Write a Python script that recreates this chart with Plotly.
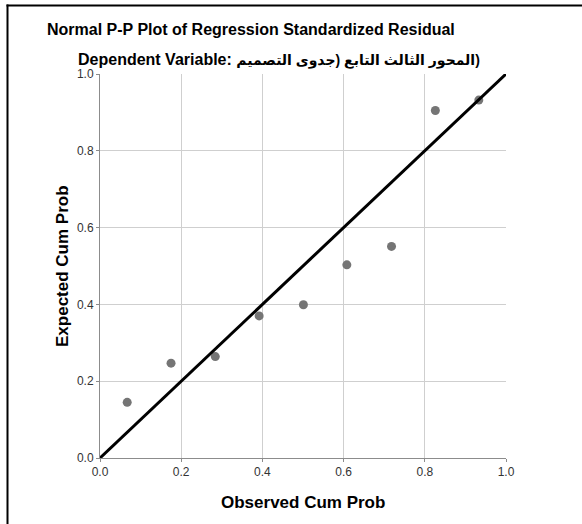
import plotly.graph_objects as go

observed = [0.067, 0.175, 0.284, 0.392, 0.501, 0.608, 0.718, 0.826, 0.933]
expected = [0.145, 0.247, 0.264, 0.370, 0.399, 0.503, 0.551, 0.905, 0.932]
ref_line = [0.0, 1.0]
tick_vals = [0.0, 0.2, 0.4, 0.6, 0.8, 1.0]
tick_text = ["0.0", "0.2", "0.4", "0.6", "0.8", "1.0"]

title_text = "Normal P-P Plot of Regression Standardized Residual"
subtitle_prefix = "Dependent Variable: "
# closing bracket isolated so it renders at the far right, as in the reference
subtitle_label = "المحور الثالث التابع (جدوى التصميم\u2066)\u2069"
x_title = "Observed Cum Prob"
y_title = "Expected Cum Prob"

FONT = "Liberation Sans, Arial, DejaVu Sans, sans-serif"

W, H = 582, 524
L, R, T, B = 100, 76, 74, 66
PW, PH = W - L - R, H - T - B

def px2x(px):
    return (px - L) / PW

def py2y(py):
    return (H - B - py) / PH

fig = go.Figure()
fig.add_trace(go.Scatter(x=observed, y=expected, mode="markers",
                         marker=dict(color="#757575", size=9),
                         showlegend=False, cliponaxis=False))
fig.add_trace(go.Scatter(x=ref_line, y=ref_line, mode="lines",
                         line=dict(color="black", width=3),
                         showlegend=False, cliponaxis=False))

axis_common = dict(range=[0, 1], tickvals=tick_vals, ticktext=tick_text,
                   showgrid=True, gridcolor="#cfcfcf", gridwidth=1,
                   showline=True, linecolor="#8c8c8c", linewidth=1,
                   ticks="outside", ticklen=3, tickcolor="#8c8c8c",
                   zeroline=False, fixedrange=True,
                   tickfont=dict(family=FONT, size=12, color="#333333"))

fig.update_xaxes(**axis_common)
fig.update_yaxes(**axis_common)

subtitle_html = ("<b>" + subtitle_prefix +
                 "<span style='font-size:14px'>" + subtitle_label + "</span></b>")

annotations = [
    dict(text="<b>" + title_text + "</b>", x=px2x(46), y=py2y(29),
         xanchor="left", yanchor="middle", showarrow=False,
         font=dict(family=FONT, size=16, color="black")),
    dict(text=subtitle_html, x=px2x(77), y=py2y(60),
         xanchor="left", yanchor="middle", showarrow=False,
         font=dict(family=FONT, size=16, color="black")),
    dict(text="<b>" + x_title + "</b>", x=0.5, y=py2y(502),
         xanchor="center", yanchor="middle", showarrow=False,
         font=dict(family=FONT, size=17, color="black")),
    dict(text="<b>" + y_title + "</b>", x=px2x(62), y=0.5, textangle=-90,
         xanchor="center", yanchor="middle", showarrow=False,
         font=dict(family=FONT, size=17, color="black")),
]
for a in annotations:
    a["xref"] = "paper"
    a["yref"] = "paper"
    a["borderpad"] = 0

shapes = [
    dict(type="line", xref="paper", yref="paper",
         x0=px2x(7.5), x1=px2x(7.5), y0=py2y(4.5), y1=py2y(540),
         line=dict(color="black", width=2)),
    dict(type="line", xref="paper", yref="paper",
         x0=px2x(6.5), x1=px2x(600), y0=py2y(5.5), y1=py2y(5.5),
         line=dict(color="black", width=2)),
]

fig.update_layout(width=W, height=H, margin=dict(l=L, r=R, t=T, b=B),
                  paper_bgcolor="white", plot_bgcolor="white",
                  annotations=annotations, shapes=shapes,
                  font=dict(family=FONT))

fig.write_html("out.html",
               config={"displayModeBar": False},
               post_script="document.body.style.margin='0';"
                           "document.body.style.overflow='hidden';")
